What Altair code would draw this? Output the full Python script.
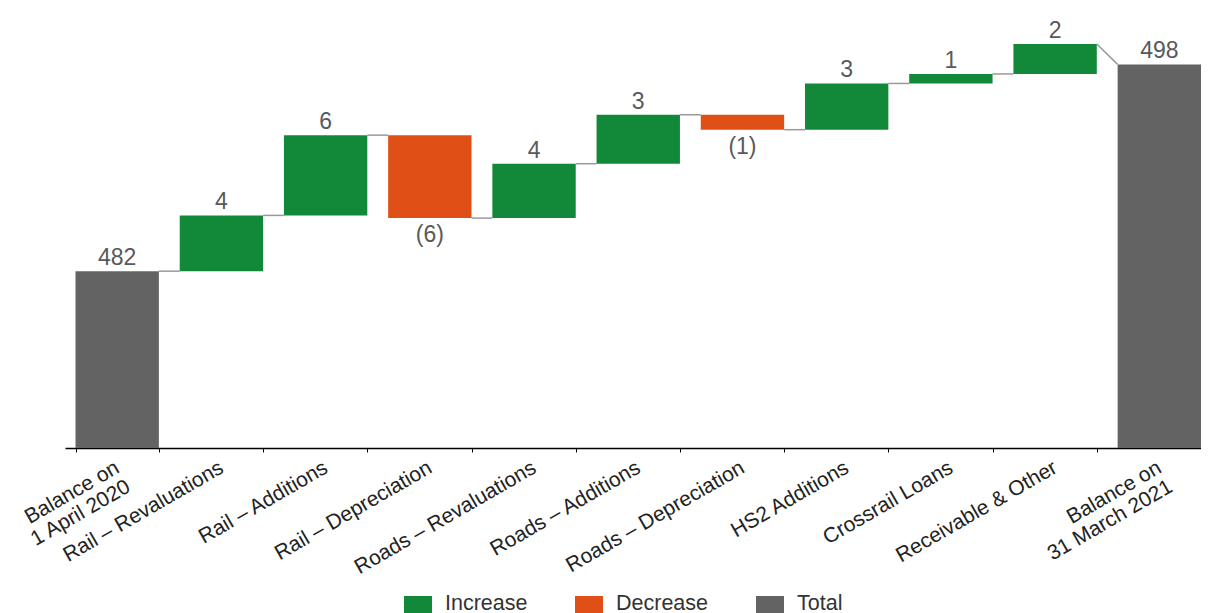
import altair as alt
import pandas as pd

categories = [
    "Balance on\n1 April 2020", "Rail – Revaluations", "Rail – Additions",
    "Rail – Depreciation", "Roads – Revaluations", "Roads – Additions",
    "Roads – Depreciation", "HS2 Additions", "Crossrail Loans",
    "Receivable & Other", "Balance on\n31 March 2021",
]
opening_balance = 482.0
changes = [4.1, 5.9, -6.1, 4.0, 3.6, -1.1, 3.4, 0.7, 2.2]
closing_balance = 497.2
value_labels = ["482", "4", "6", "(6)", "4", "3", "(1)", "3", "1", "2", "498"]
kinds = ["Increase", "Decrease", "Total"]
kind_colors = ["#128839", "#DF4F16", "#636363"]
y_min, y_max = 469.0, 501.2

PAD_INNER, PAD_OUTER = 0.2, 0.0504

rows = []
level = opening_balance
rows.append(dict(cat=categories[0], lo=y_min, hi=opening_balance, kind="Total",
                 label=value_labels[0], end=opening_balance))
for i, c in enumerate(changes):
    new = round(level + c, 2)
    rows.append(dict(cat=categories[i + 1], lo=min(level, new), hi=max(level, new),
                     kind="Increase" if c >= 0 else "Decrease",
                     label=value_labels[i + 1], end=new))
    level = new
rows.append(dict(cat=categories[-1], lo=y_min, hi=closing_balance, kind="Total",
                 label=value_labels[-1], end=closing_balance))
df = pd.DataFrame(rows)

# connectors: from right edge of bar i to left edge of bar i+1 (in band-step units)
conn = []
for i in range(len(rows) - 1):
    nxt = rows[i + 1]
    y2 = nxt["hi"] if nxt["kind"] == "Total" else rows[i]["end"]
    conn.append(dict(xs=i + 1 - PAD_INNER, xe=i + 1, y=rows[i]["end"], y2=y2))
cdf = pd.DataFrame(conn)

n = len(categories)
xscale = alt.Scale(domain=categories, paddingInner=PAD_INNER, paddingOuter=PAD_OUTER, align=1)
yscale = alt.Scale(domain=[y_min, y_max], zero=False, nice=False)

base_x = alt.X("cat:N", scale=xscale, title=None,
               axis=alt.Axis(labelAngle=-30, labelAlign="right", labelBaseline="middle",
                             labelExpr="split(datum.label, '\\n')",
                             labelFont="Liberation Sans", labelFontSize=21,
                             labelColor="#222222", labelLineHeight=22,
                             labelPadding=14, labelLimit=400, labelOverlap=False,
                             labelBound=False, tickBand="extent", tickSize=4,
                             tickColor="#000000", domainColor="#000000",
                             domainWidth=1.5, grid=False))

bars = alt.Chart(df).mark_bar().encode(
    x=base_x,
    y=alt.Y("lo:Q", scale=yscale, axis=None),
    y2="hi:Q",
    color=alt.Color("kind:N", scale=alt.Scale(domain=kinds, range=kind_colors),
                    legend=alt.Legend(title=None, orient="none", direction="horizontal",
                                      legendX=339, legendY=586, padding=0,
                                      symbolType="square", symbolSize=784,
                                      symbolStrokeWidth=0, labelFontSize=21.5,
                                      labelFont="Liberation Sans", labelColor="#333333",
                                      labelOffset=13, labelBaseline="alphabetic",
                                      columnPadding=47, labelLimit=300)),
)

pos_labels = alt.Chart(df).transform_filter("datum.kind != 'Decrease'").mark_text(
    baseline="alphabetic", dy=-6, fontSize=23, font="Liberation Sans", color="#595959"
).encode(x=alt.X("cat:N", scale=xscale), y=alt.Y("hi:Q", scale=yscale), text="label:N")

neg_labels = alt.Chart(df).transform_filter("datum.kind == 'Decrease'").mark_text(
    baseline="top", dy=6, fontSize=23, font="Liberation Sans", color="#595959"
).encode(x=alt.X("cat:N", scale=xscale), y=alt.Y("lo:Q", scale=yscale), text="label:N")

main = alt.layer(bars, pos_labels, neg_labels)

connectors = alt.Chart(cdf).mark_rule(color="#999999", strokeWidth=1.5).encode(
    x=alt.X("xs:Q", scale=alt.Scale(domain=[-2 * PAD_OUTER, n - PAD_INNER], nice=False, zero=False),
            axis=None),
    x2="xe:Q",
    y=alt.Y("y:Q", scale=yscale, axis=None),
    y2="y2:Q",
)

chart = alt.layer(connectors, main).resolve_scale(x="independent").properties(
    width=1136, height=438,
    autosize=alt.AutoSizeParams(type="none"),
    padding={"left": 57, "top": 2, "right": 0, "bottom": 179},
).configure_view(stroke=None)

chart.save("out.html", embed_options={"renderer": "svg", "actions": False})
